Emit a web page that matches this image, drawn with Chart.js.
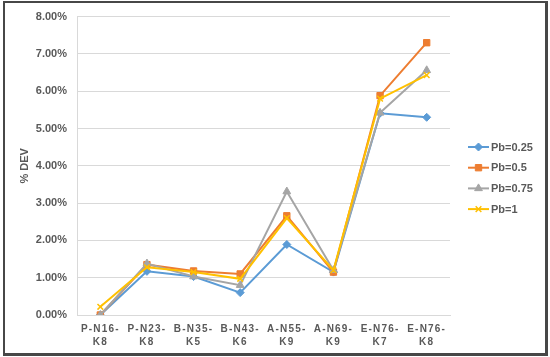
<!DOCTYPE html>
<html>
<head>
<meta charset="utf-8">
<script src="https://cdn.jsdelivr.net/npm/chart.js@4.4.1/dist/chart.umd.min.js"></script>
<style>
    html, body { margin: 0; padding: 0; background: #fff; }
    #wrap { position: relative; width: 550px; height: 357px; }
    #frame {
        position: absolute; left: 3px; top: 1px; width: 540px; height: 350px;
        border: 2px solid #474747; border-right-width: 3px; border-bottom-width: 3px;
        pointer-events: none;
    }
</style>
</head>
<body>
<div id="wrap">
    <canvas id="chart" width="550" height="357"></canvas>
    <div id="frame"></div>
</div>
<script>
// Categories (two-line labels as shown on the axis)
const categories = [
    ['P-N16-', 'K8'], ['P-N23-', 'K8'], ['B-N35-', 'K5'], ['B-N43-', 'K6'],
    ['A-N55-', 'K9'], ['A-N69-', 'K9'], ['E-N76-', 'K7'], ['E-N76-', 'K8']
];

// % DEV per series
const pb025 = [0.00, 1.17, 1.03, 0.60, 1.89, 1.15, 5.41, 5.30];
const pb050 = [0.00, 1.35, 1.18, 1.10, 2.66, 1.15, 5.88, 7.30];
const pb075 = [0.00, 1.38, 1.03, 0.80, 3.31, 1.20, 5.42, 6.56];
const pb100 = [0.22, 1.28, 1.15, 0.97, 2.60, 1.20, 5.80, 6.43];

const seriesNames = ['Pb=0.25', 'Pb=0.5', 'Pb=0.75', 'Pb=1'];
const yTicksMax = 8;

const TEXT = '#595959';
const FONT = "'Liberation Sans', Arial, sans-serif";

const styles = [
    { color: '#5B9BD5', pointStyle: 'rectRot', radius: 4 },
    { color: '#ED7D31', pointStyle: 'rect', radius: 4.5 },
    { color: '#A5A5A5', pointStyle: 'triangle', radius: 4.5 },
    { color: '#FFC000', pointStyle: 'crossRot', radius: 4 }
];

const makeSet = (i, data) => ({
    label: seriesNames[i],
    data,
    borderColor: styles[i].color,
    backgroundColor: styles[i].color,
    borderWidth: 2,
    pointStyle: styles[i].pointStyle,
    pointRadius: styles[i].radius,
    pointBorderWidth: styles[i].pointStyle === 'crossRot' ? 1.5 : 1,
    pointBackgroundColor: styles[i].color,
    pointBorderColor: styles[i].color,
    tension: 0,
    order: 3 - i
});

// letter-spaced category labels
const xLabelSpacing = {
    id: 'xLabelSpacing',
    beforeDraw(chart) {
        const s = chart.scales.x;
        if (s && !s._spaced) {
            const orig = s.drawLabels.bind(s);
            s.drawLabels = function (area) {
                const ctx = this.ctx;
                ctx.save();
                ctx.letterSpacing = '1.2px';
                orig(area);
                ctx.restore();
            };
            s._spaced = true;
        }
    }
};

// Excel-like legend: line through marker
const lineLegend = {
    id: 'lineLegend',
    afterDraw(chart) {
        const ctx = chart.ctx;
        const x0 = 468, x1 = 489, top = 147, step = 20.7;
        ctx.save();
        chart.data.datasets
            .slice()
            .sort((a, b) => seriesNames.indexOf(a.label) - seriesNames.indexOf(b.label))
            .forEach((ds, i) => {
                const y = top + i * step;
                ctx.strokeStyle = ds.borderColor;
                ctx.lineWidth = 2;
                ctx.beginPath();
                ctx.moveTo(x0, y);
                ctx.lineTo(x1, y);
                ctx.stroke();
                ctx.fillStyle = ds.pointBackgroundColor;
                ctx.strokeStyle = ds.pointBorderColor;
                ctx.lineWidth = ds.pointBorderWidth;
                Chart.helpers.drawPoint(ctx, {
                    pointStyle: ds.pointStyle, radius: ds.pointRadius, rotation: 0, borderWidth: ds.pointBorderWidth
                }, (x0 + x1) / 2, y);
                ctx.fillStyle = TEXT;
                ctx.font = `bold 11px ${FONT}`;
                ctx.textAlign = 'left';
                ctx.textBaseline = 'middle';
                ctx.fillText(ds.label, x1 + 2, y + 0.5);
            });
        ctx.restore();
    }
};

new Chart(document.getElementById('chart'), {
    type: 'line',
    data: {
        labels: categories,
        datasets: [makeSet(0, pb025), makeSet(1, pb050), makeSet(2, pb075), makeSet(3, pb100)]
    },
    options: {
        responsive: false,
        animation: false,
        layout: { padding: { left: 14, right: 100, top: 16, bottom: 0 } },
        plugins: {
            legend: { display: false },
            tooltip: { enabled: false }
        },
        scales: {
            x: {
                offset: true,
                grid: { display: false, drawTicks: false },
                border: { color: '#d9d9d9', width: 1 },
                ticks: {
                    color: TEXT,
                    padding: 8,
                    maxRotation: 0,
                    autoSkip: false,
                    font: { family: FONT, size: 10, weight: 'bold', lineHeight: 1.3 }
                }
            },
            y: {
                min: 0,
                max: yTicksMax,
                afterFit: s => { s.width = 63; },
                grid: { color: '#d9d9d9', drawTicks: false },
                border: { color: '#d9d9d9', width: 1 },
                ticks: {
                    stepSize: 1,
                    color: TEXT,
                    padding: 10,
                    font: { family: FONT, size: 11, weight: 'bold' },
                    callback: v => v.toFixed(2) + '%'
                },
                title: {
                    display: true,
                    text: '% DEV',
                    color: TEXT,
                    padding: { top: 4, bottom: 2 },
                    font: { family: FONT, size: 11, weight: 'bold' }
                }
            }
        }
    },
    plugins: [xLabelSpacing, lineLegend]
});
</script>
</body>
</html>
